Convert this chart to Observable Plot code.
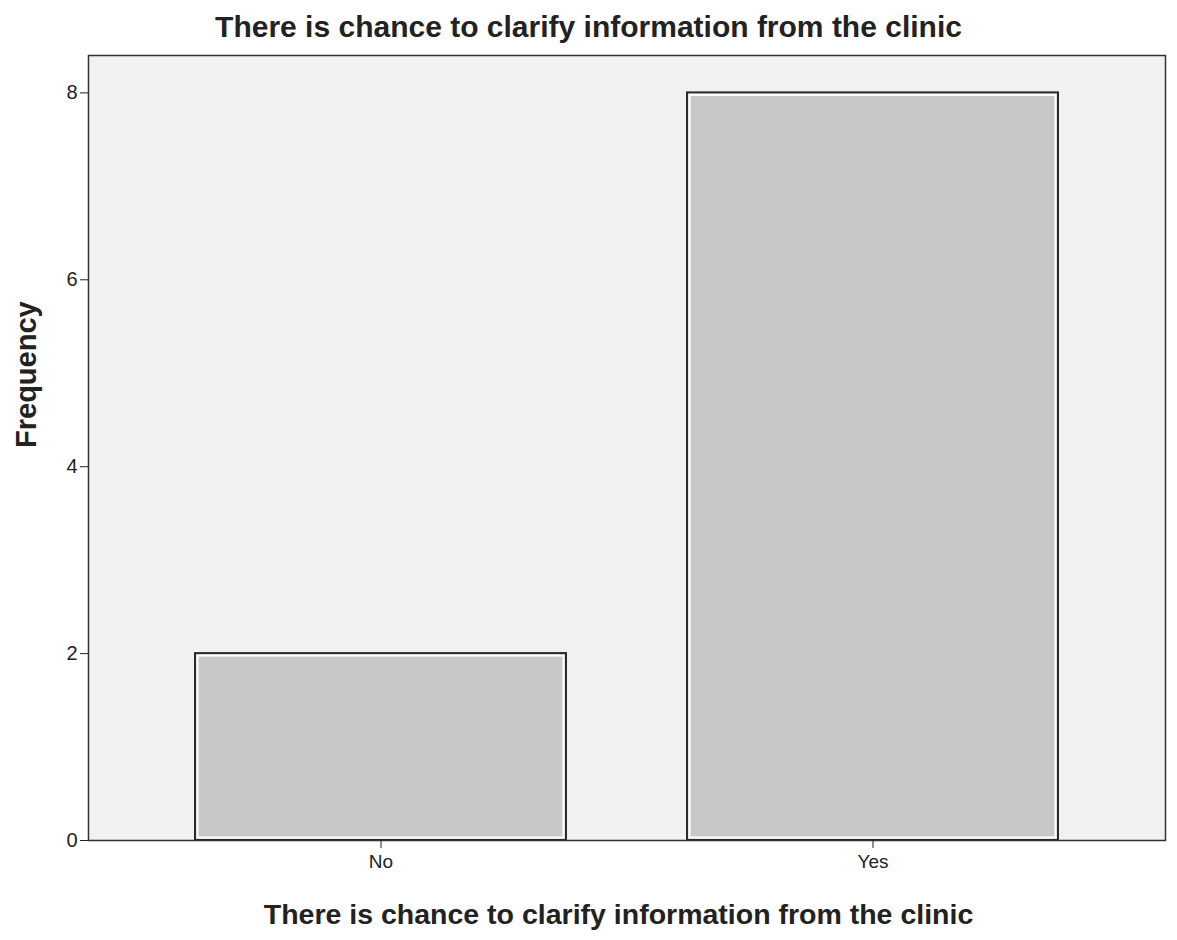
<!DOCTYPE html>
<html>
<head>
<meta charset="utf-8">
<script src="https://cdn.jsdelivr.net/npm/d3@7"></script>
<script src="https://cdn.jsdelivr.net/npm/@observablehq/plot@0.6"></script>
<style>
  body { margin: 0; background: #fff; font-family: "Liberation Sans", Arial, sans-serif; }
  #wrap { width: 1177px; position: relative; }
  .title { height: 45px; line-height: 54px; text-align: center; font-weight: bold; font-size: 30px; color: #222; }
  .xlabel { height: 45px; line-height: 38px; text-align: center; font-weight: bold; font-size: 28.5px; color: #222; padding-left: 60px; }
</style>
</head>
<body>
<div id="wrap">
  <div class="title">There is chance to clarify information from the clinic</div>
  <div id="chart"></div>
  <div class="xlabel">There is chance to clarify information from the clinic</div>
</div>
<script>
const categories = ["No", "Yes"];
const frequencies = [2, 8];
const yTicks = [0, 2, 4, 6, 8];
const yLabel = "Frequency";

const data = categories.map((c, i) => ({category: c, frequency: frequencies[i]}));

const chart = Plot.plot({
  width: 1177,
  height: 850,
  marginLeft: 88,
  marginRight: 12,
  marginTop: 10,
  marginBottom: 55,
  style: {fontSize: "20px", fontFamily: "Liberation Sans, Arial, sans-serif", color: "#222", background: "white"},
  x: {domain: categories, paddingInner: 0.245, paddingOuter: 0.215, label: null},
  y: {domain: [0, 8.4], label: null},
  marks: [
    Plot.frame({fill: "#f1f1f1", stroke: "none"}),
    Plot.barY(data, {x: "category", y: "frequency", fill: "#c8c8c8", stroke: "#2a2a2a", strokeWidth: 2}),
    Plot.barY(data, {x: "category", y: "frequency", fill: "none", stroke: "white", strokeWidth: 2, inset: 2.5}),
    Plot.frame({stroke: "#333", strokeWidth: 1.5}),
    Plot.axisY({ticks: yTicks, tickSize: 8, tickPadding: 3, label: null, fontSize: 20}),
    Plot.axisX({tickSize: 8, tickPadding: 6, label: null, fontSize: 19}),
    Plot.text([yLabel], {frameAnchor: "left", rotate: -90, dx: -62, fontSize: 29, fontWeight: "bold", fill: "#222"})
  ]
});
document.getElementById("chart").append(chart);
</script>
</body>
</html>
